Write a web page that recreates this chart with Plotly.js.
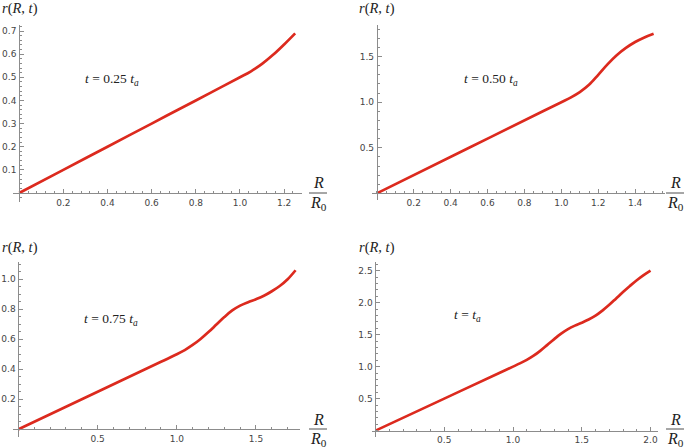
<!DOCTYPE html>
<html><head><meta charset="utf-8">
<script src="https://cdn.plot.ly/plotly-3.0.1.min.js"></script>
<style>html,body{margin:0;padding:0;background:#fff}#chart{width:685px;height:448px}</style>
</head><body><div id="chart"></div>
<script>
// ---- data ----
const R_a = [0, 0.2, 0.4, 0.6, 0.8, 0.9, 1.0, 1.05, 1.1, 1.15, 1.2, 1.25];
const r_a = [0, 0.1, 0.2, 0.3, 0.4, 0.45, 0.5, 0.526, 0.558, 0.597, 0.642, 0.69];

const R_b = [0, 0.5, 0.9, 1.0, 1.05, 1.1, 1.15, 1.2, 1.25, 1.3, 1.35, 1.4, 1.45, 1.5];
const r_b = [0, 0.5, 0.9, 1.0, 1.05, 1.11, 1.19, 1.30, 1.415, 1.515, 1.595, 1.66, 1.71, 1.75];

const R_c = [0, 0.5, 0.9, 1.0, 1.05, 1.1, 1.15, 1.2, 1.25, 1.3, 1.35, 1.4, 1.45, 1.5, 1.55, 1.6, 1.65, 1.7, 1.75];
const r_c = [0, 0.25, 0.45, 0.5, 0.528, 0.562, 0.602, 0.648, 0.698, 0.748, 0.792, 0.824, 0.847, 0.867, 0.89, 0.92, 0.955, 1.0, 1.06];

const R_d = [0, 0.5, 0.9, 1.0, 1.05, 1.1, 1.15, 1.2, 1.25, 1.3, 1.35, 1.4, 1.45, 1.5, 1.55, 1.6, 1.65, 1.7, 1.75, 1.8, 1.85, 1.9, 1.95, 2.0];
const r_d = [0, 0.5, 0.9, 1.0, 1.05, 1.105, 1.17, 1.25, 1.34, 1.43, 1.515, 1.585, 1.64, 1.685, 1.735, 1.795, 1.875, 1.965, 2.065, 2.165, 2.26, 2.35, 2.43, 2.5];

const panelLabels = ['<i>t</i> = 0.25 <i>t</i><sub><i>a</i></sub>',
                     '<i>t</i> = 0.50 <i>t</i><sub><i>a</i></sub>',
                     '<i>t</i> = 0.75 <i>t</i><sub><i>a</i></sub>',
                     '<i>t</i> = <i>t</i><sub><i>a</i></sub>'];

const xTicks_a = [0.2, 0.4, 0.6, 0.8, 1.0, 1.2];
const xTickText_a = ['0.2', '0.4', '0.6', '0.8', '1.0', '1.2'];
const yTicks_a = [0.1, 0.2, 0.3, 0.4, 0.5, 0.6, 0.7];
const yTickText_a = ['0.1', '0.2', '0.3', '0.4', '0.5', '0.6', '0.7'];

const xTicks_b = [0.2, 0.4, 0.6, 0.8, 1.0, 1.2, 1.4];
const xTickText_b = ['0.2', '0.4', '0.6', '0.8', '1.0', '1.2', '1.4'];
const yTicks_b = [0.5, 1.0, 1.5];
const yTickText_b = ['0.5', '1.0', '1.5'];

const xTicks_c = [0.5, 1.0, 1.5];
const xTickText_c = ['0.5', '1.0', '1.5'];
const yTicks_c = [0.2, 0.4, 0.6, 0.8, 1.0];
const yTickText_c = ['0.2', '0.4', '0.6', '0.8', '1.0'];

const xTicks_d = [0.5, 1.0, 1.5, 2.0];
const xTickText_d = ['0.5', '1.0', '1.5', '2.0'];
const yTicks_d = [0.5, 1.0, 1.5, 2.0, 2.5];
const yTickText_d = ['0.5', '1.0', '1.5', '2.0', '2.5'];

// ---- layout configuration (pixel geometry) ----
const W = 685, H = 448;
const panels = [
  {R: R_a, r: r_a, xDom: [13, 302], yDom: [25, 201.7], xRange: [-0.028, 1.281], yRange: [-0.0376, 0.726],
   xt: xTicks_a, xtt: xTickText_a, yt: yTicks_a, ytt: yTickText_a, xMinor: 0.04, yMinor: 0.02,
   ylab: [0, 9], tlab: [83, 79], frac: [318, 193]},
  {R: R_b, r: r_b, xDom: [371.7, 665], yDom: [25, 200], xRange: [-0.0277, 1.5618], yRange: [-0.0724, 1.846],
   xt: xTicks_b, xtt: xTickText_b, yt: yTicks_b, ytt: yTickText_b, xMinor: 0.05, yMinor: 0.1,
   ylab: [357, 9], tlab: [461.7, 79], frac: [675, 193]},
  {R: R_c, r: r_c, xDom: [13, 300], yDom: [261.7, 436.7], xRange: [-0.0347, 1.778], yRange: [-0.0493, 1.117],
   xt: xTicks_c, xtt: xTickText_c, yt: yTicks_c, ytt: yTickText_c, xMinor: 0.1, yMinor: 0.05,
   ylab: [0, 247], tlab: [81.7, 319], frac: [318, 429]},
  {R: R_d, r: r_d, xDom: [371.7, 658.3], yDom: [261.7, 436.7], xRange: [-0.0276, 2.0566], yRange: [-0.095, 2.639],
   xt: xTicks_d, xtt: xTickText_d, yt: yTicks_d, ytt: yTickText_d, xMinor: 0.1, yMinor: 0.1,
   ylab: [357, 247], tlab: [451.7, 315], frac: [675, 429]}
];

const px = v => v / W;
const py = v => 1 - v / H;
const axisColor = '#8c8c8c';
const tickFont = {family: 'DejaVu Sans', size: 9, color: '#444'};
const ylabFont = {family: 'Liberation Serif', size: 14.5, color: '#222'};
const mathFont = {family: 'Liberation Serif', size: 13.5, color: '#222'};
const fracFont = {family: 'Liberation Serif', size: 16, color: '#222'};

const data = [];
const layout = {
  width: W, height: H, margin: {l: 0, r: 0, t: 0, b: 0},
  paper_bgcolor: '#fff', plot_bgcolor: '#fff', showlegend: false,
  annotations: [], shapes: []
};

panels.forEach((p, i) => {
  const n = i === 0 ? '' : String(i + 1);
  data.push({
    type: 'scatter', mode: 'lines', x: p.R, y: p.r,
    xaxis: 'x' + n, yaxis: 'y' + n,
    line: {color: '#dc2a1e', width: 2.7, shape: 'spline', smoothing: 1},
    hoverinfo: 'skip'
  });
  const xd = [px(p.xDom[0]), px(p.xDom[1])];
  const yd = [py(p.yDom[1]), py(p.yDom[0])];
  const xPos = yd[0] + (0 - p.yRange[0]) / (p.yRange[1] - p.yRange[0]) * (yd[1] - yd[0]);
  const yPos = xd[0] + (0 - p.xRange[0]) / (p.xRange[1] - p.xRange[0]) * (xd[1] - xd[0]);
  layout['xaxis' + n] = {
    domain: xd, range: p.xRange, anchor: 'free', position: xPos,
    showgrid: false, zeroline: false, showline: true, linecolor: axisColor, linewidth: 1,
    tickmode: 'array', tickvals: p.xt, ticktext: p.xtt, ticks: 'inside', ticklen: 4,
    tickcolor: axisColor, tickwidth: 1, tickfont: tickFont, ticklabelstandoff: 1,
    minor: {tickmode: 'linear', tick0: 0, dtick: p.xMinor, ticks: 'inside', ticklen: 2, tickcolor: axisColor, tickwidth: 1, showgrid: false},
    fixedrange: true
  };
  layout['yaxis' + n] = {
    domain: yd, range: p.yRange, anchor: 'free', position: yPos,
    showgrid: false, zeroline: false, showline: true, linecolor: axisColor, linewidth: 1,
    tickmode: 'array', tickvals: p.yt, ticktext: p.ytt, ticks: 'inside', ticklen: 4,
    tickcolor: axisColor, tickwidth: 1, tickfont: tickFont, ticklabelstandoff: 1,
    minor: {tickmode: 'linear', tick0: 0, dtick: p.yMinor, ticks: 'inside', ticklen: 2, tickcolor: axisColor, tickwidth: 1, showgrid: false},
    fixedrange: true
  };
  layout.annotations.push({
    xref: 'paper', yref: 'paper', x: px(p.ylab[0]), y: py(p.ylab[1]),
    xanchor: 'left', yanchor: 'middle', showarrow: false,
    text: '<i>r</i>(<i>R</i>, <i>t</i>)', font: ylabFont
  });
  layout.annotations.push({
    xref: 'paper', yref: 'paper', x: px(p.tlab[0]), y: py(p.tlab[1]),
    xanchor: 'left', yanchor: 'middle', showarrow: false,
    text: panelLabels[i], font: mathFont
  });
  layout.annotations.push({
    xref: 'paper', yref: 'paper', x: px(p.frac[0]), y: py(p.frac[1] - 10),
    xanchor: 'center', yanchor: 'middle', showarrow: false, borderpad: 0,
    text: '<i>R</i>', font: fracFont
  });
  layout.annotations.push({
    xref: 'paper', yref: 'paper', x: px(p.frac[0]), y: py(p.frac[1] + 10),
    xanchor: 'center', yanchor: 'middle', showarrow: false, borderpad: 0,
    text: '<i>R</i><sub>0</sub>', font: fracFont
  });
  layout.shapes.push({
    type: 'line', xref: 'paper', yref: 'paper',
    x0: px(p.frac[0] - 9), x1: px(p.frac[0] + 9), y0: py(p.frac[1]), y1: py(p.frac[1]),
    line: {color: '#222', width: 0.8}
  });
});

Plotly.newPlot('chart', data, layout, {displayModeBar: false, staticPlot: true});
</script>
</body></html>
